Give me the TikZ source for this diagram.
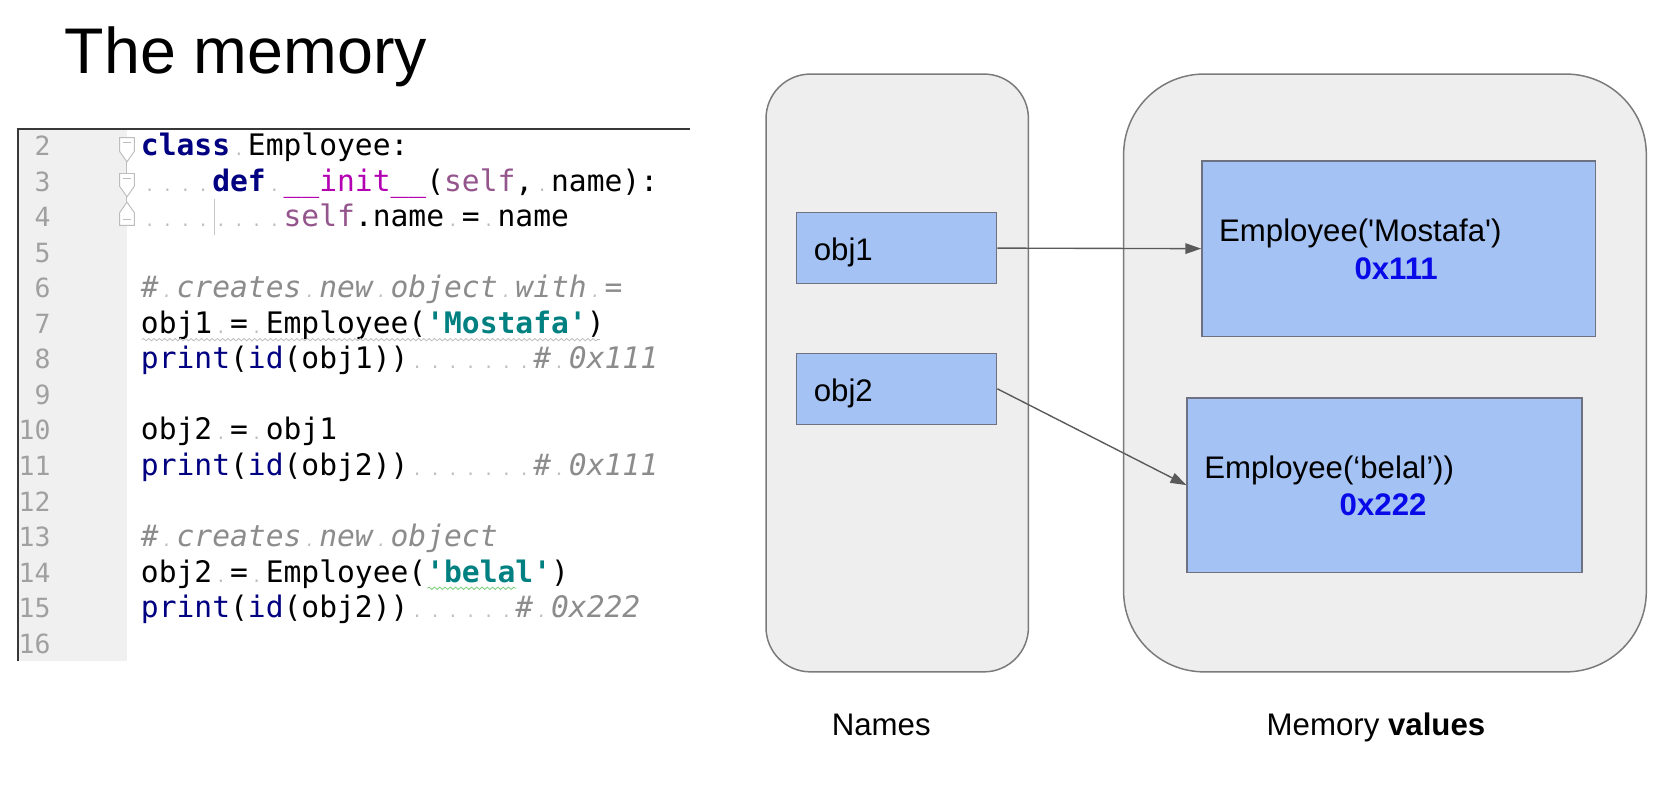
\documentclass[tikz,border=0pt]{standalone}
\usepackage{fontspec}
\setmainfont{Liberation Sans}
\setmonofont{DejaVu Sans Mono}
\usetikzlibrary{arrows.meta,decorations.pathmorphing}

\definecolor{panel}{HTML}{EEEEEE}
\definecolor{panelline}{HTML}{7A7A7A}
\definecolor{cell}{HTML}{A4C2F4}
\definecolor{cellline}{HTML}{6E7280}
\definecolor{arrowgray}{HTML}{5A5A5A}
\definecolor{addr}{HTML}{0A0AE8}
\definecolor{pynavy}{HTML}{000080}
\definecolor{pyteal}{HTML}{008080}
\definecolor{pymagic}{HTML}{B200B2}
\definecolor{pyself}{HTML}{94558D}
\definecolor{pycomment}{HTML}{8C8C8C}
\definecolor{lineno}{HTML}{A0A0A0}
\definecolor{gutter}{HTML}{F0F0F0}
\definecolor{wsdot}{HTML}{BEBEBE}

\newcommand{\slidefont}{\fontsize{29.5}{35}\selectfont}
\newcommand{\codefont}{\ttfamily\fontsize{28}{33.6}\selectfont}
\newcommand{\ws}{\rlap{\hspace{0.125em}\textcolor{wsdot}{\fontsize{16}{16}\selectfont.}}\phantom{x}}
\newcommand{\kw}[1]{\textcolor{pynavy}{\bfseries #1}}
\newcommand{\fn}[1]{\textcolor{pynavy}{#1}}
\newcommand{\pystr}[1]{\textcolor{pyteal}{\bfseries\textquotesingle#1\textquotesingle}}
\newcommand{\pycmt}[1]{\textcolor{pycomment}{\itshape #1}}
\newcommand{\slf}{\textcolor{pyself}{self}}

\begin{document}
\begin{tikzpicture}[x=1pt, y=-1pt,
		txt/.style={anchor=base west, inner sep=0, font=\slidefont},
		code/.style={anchor=base west, inner sep=0, font=\codefont},
		lnum/.style={anchor=base east, inner sep=0, text=lineno, font=\ttfamily\fontsize{25}{30}\selectfont},
		panelbox/.style={fill=panel, draw=panelline, line width=1.4},
		cellbox/.style={fill=cell, draw=cellline, line width=1.4, inner sep=0},
		fold/.style={fill=white, draw=lineno!70, line width=0.9},
		squiggle/.style={decorate, decoration={snake, segment length=5, amplitude=1.1}, line width=0.8}]
	\useasboundingbox (0,0) rectangle (1568,755);
	\node[txt, font=\fontsize{61}{72}\selectfont] (title) at (61,69) {The memory};

	\fill[gutter] (17,122) rectangle (120,625);
	\draw[line width=2, draw=black!78] (17,625) -- (17,122) -- (652,122);
	\foreach \n in {2,...,16}
		\node[lnum] (ln\n) at (48, {147+(\n-2)*33.6}) {\n};
	\draw[draw=lineno!70, line width=0.9] (120,150) -- (120,200);
	\draw[fold] (113,130) -- (127,130) -- (127,143) -- (120,153) -- (113,143) -- cycle;
	\draw[fold] (113,164) -- (127,164) -- (127,176) -- (120,186) -- (113,176) -- cycle;
	\draw[fold] (113,213) -- (127,213) -- (127,201) -- (120,191) -- (113,201) -- cycle;
	\draw[draw=lineno!70, line width=0.8] (116,135) -- (124,135) (116,169) -- (124,169) (116,207) -- (124,207);
	\draw[draw=lineno!60, line width=0.8] (203,188) -- (203,222);

	\node[code] (c2) at (133,147.0) {\kw{class}\ws Employee:};
	\node[code] (c3) at (133,180.6) {\ws\ws\ws\ws\kw{def}\ws\textcolor{pymagic}{\_\_init\_\_}(\slf,\ws name):};
	\node[code] (c4) at (133,214.2) {\ws\ws\ws\ws\ws\ws\ws\ws\slf.name\ws=\ws name};
	\node[code] (c6) at (133,281.4) {\pycmt{\#\ws creates\ws new\ws object\ws with\ws =}};
	\node[code] (c7) at (133,315.0) {obj1\ws=\ws Employee(\pystr{Mostafa})};
	\node[code] (c8) at (133,348.6) {\fn{print}(\fn{id}(obj1))\ws\ws\ws\ws\ws\ws\ws\pycmt{\#\ws 0x111}};
	\node[code] (c10) at (133,415.8) {obj2\ws=\ws obj1};
	\node[code] (c11) at (133,449.4) {\fn{print}(\fn{id}(obj2))\ws\ws\ws\ws\ws\ws\ws\pycmt{\#\ws 0x111}};
	\node[code] (c13) at (133,516.6) {\pycmt{\#\ws creates\ws new\ws object}};
	\node[code] (c14) at (133,550.2) {obj2\ws=\ws Employee(\pystr{belal})};
	\node[code] (c15) at (133,583.8) {\fn{print}(\fn{id}(obj2))\ws\ws\ws\ws\ws\ws\pycmt{\#\ws 0x222}};
	\draw[squiggle, draw=black!25] (134,321) -- (567,321);
	\draw[squiggle, draw=green!45!gray!70] (404,556) -- (488,556);

	\draw[panelbox, rounded corners=42] (724,70) rectangle (972,635);
	\draw[panelbox, rounded corners=76] (1062,70) rectangle (1556,635);

	\node[cellbox, minimum width=189, minimum height=67] (obj1) at (847.5,234.5) {};
	\node[cellbox, minimum width=189, minimum height=67] (obj2) at (847.5,367.5) {};
	\node[cellbox, minimum width=372, minimum height=166] (mem1) at (1322,235) {};
	\node[cellbox, minimum width=373, minimum height=165] (mem2) at (1308.5,458.5) {};
	\node[txt] (obj1text) at (769,246.5) {obj1};
	\node[txt] (obj2text) at (769,379.5) {obj2};
	\node[txt] (mem1text) at (1152,228.4) {Employee(\textquotesingle Mostafa\textquotesingle)};
	\node[txt, text=addr, font=\slidefont\bfseries] (mem1addr) at (1280,264) {0x111};
	\node[txt] (mem2text) at (1138,452) {Employee(‘belal’))};
	\node[txt, text=addr, font=\slidefont\bfseries] (mem2addr) at (1266,487.4) {0x222};

	\draw[->, >={Triangle[length=15, width=10]}, draw=arrowgray, fill=arrowgray, line width=1.3] (obj1.east) -- (mem1.west);
	\draw[->, >={Triangle[length=15, width=10]}, draw=arrowgray, fill=arrowgray, line width=1.3] (obj2.east) -- (mem2.west);

	\node[txt] (names) at (786,695) {Names};
	\node[txt] (values) at (1197,695) {Memory \textbf{values}};
\end{tikzpicture}
\end{document}
